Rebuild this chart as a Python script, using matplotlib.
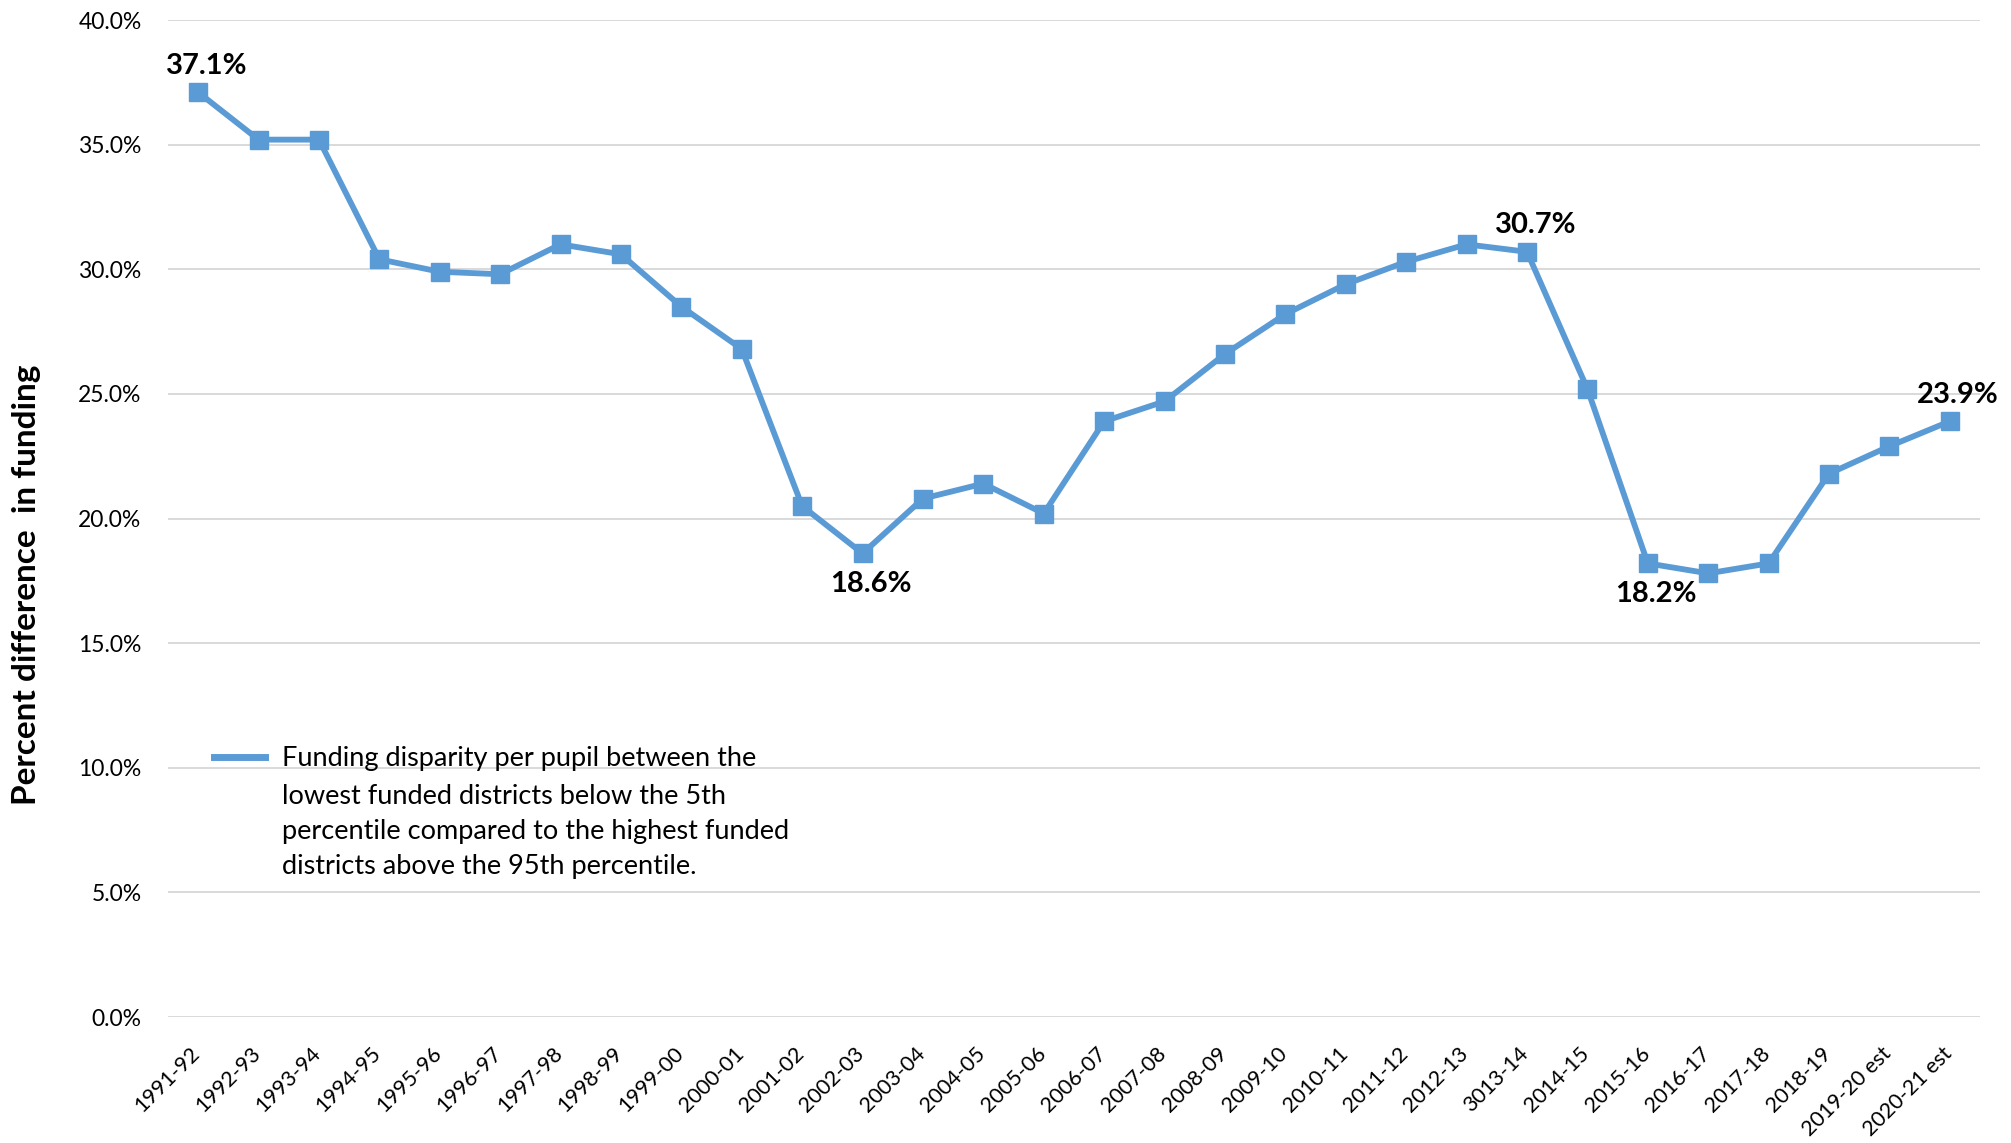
import matplotlib.pyplot as plt
import matplotlib.transforms as mtransforms
from matplotlib.ticker import FuncFormatter, MultipleLocator

plt.rcParams['font.family'] = ['Lato', 'DejaVu Sans']

# 数据
years = ["1991-92", "1992-93", "1993-94", "1994-95", "1995-96", "1996-97", "1997-98",
         "1998-99", "1999-00", "2000-01", "2001-02", "2002-03", "2003-04", "2004-05",
         "2005-06", "2006-07", "2007-08", "2008-09", "2009-10", "2010-11", "2011-12",
         "2012-13", "3013-14", "2014-15", "2015-16", "2016-17", "2017-18", "2018-19",
         "2019-20 est", "2020-21 est"]
disparity = [37.1, 35.2, 35.2, 30.4, 29.9, 29.8, 31.0, 30.6, 28.5, 26.8, 20.5, 18.6,
             20.8, 21.4, 20.2, 23.9, 24.7, 26.6, 28.2, 29.4, 30.3, 31.0, 30.7, 25.2,
             18.2, 17.8, 18.2, 21.8, 22.9, 23.9]
# 标注的点: (索引, 方向)
labeled = [(0, "above"), (11, "below"), (22, "above"), (24, "below"), (29, "above")]
legend_lines = ["Funding disparity per pupil between the",
                "lowest funded districts below the 5th",
                "percentile compared to the highest funded",
                "districts above the 95th percentile."]

blue = "#5B9BD5"

fig = plt.figure(figsize=(20.11, 11.43), dpi=100)
ax = fig.add_axes([0.0835, 0.1102, 0.9011, 0.8723])

x = list(range(len(years)))
ax.plot(x, disparity, color=blue, lw=4.2, marker="s", markersize=13,
        label=legend_lines[0], solid_joinstyle="miter")

for i, pos in labeled:
    dy = 19 if pos == "above" else -22
    ax.annotate(f"{disparity[i]:.1f}%", (x[i], disparity[i]), xytext=(6, dy),
                textcoords="offset points", ha="center", va="center",
                fontsize=21, fontweight="bold", color="black")

ax.set_ylim(0, 40)
ax.set_xlim(-0.5, len(years) - 0.5)
ax.yaxis.set_major_locator(MultipleLocator(5))
ax.yaxis.set_major_formatter(FuncFormatter(lambda v, p: f"{v:.1f}%"))
ax.grid(axis="y", color="#d9d9d9", lw=1.4)
ax.set_axisbelow(True)
for s in ax.spines.values():
    s.set_visible(False)
ax.tick_params(axis="both", length=0)
ax.tick_params(axis="y", labelsize=16.5, pad=19)
ax.set_xticks(x)
ax.set_xticklabels(years, rotation=45, ha="right", rotation_mode="anchor", fontsize=15.5)
ax.tick_params(axis="x", pad=19)
# 标签稍微往左挪一点
shift = mtransforms.ScaledTranslation(-6 / 72, 0, fig.dpi_scale_trans)
for lbl in ax.get_xticklabels():
    lbl.set_transform(lbl.get_transform() + shift)

ax.set_ylabel("Percent difference  in funding", fontsize=24, fontweight="bold")
ax.yaxis.set_label_coords(-0.070, 0.434)

leg = ax.legend(loc="upper left", bbox_to_anchor=(0.012, 0.296), frameon=False,
                fontsize=19.5, handlelength=1.9, handletextpad=0.6)
for h in leg.legend_handles:
    h.set_marker("")
    h.set_linewidth(5)
ax.annotate("\n".join(legend_lines[1:]), xy=(0, 0), xycoords=leg.get_texts()[0],
            xytext=(0, -9), textcoords="offset points", va="top", ha="left",
            fontsize=19.5, linespacing=1.5, zorder=6)

fig.savefig("out.png", dpi=100)
